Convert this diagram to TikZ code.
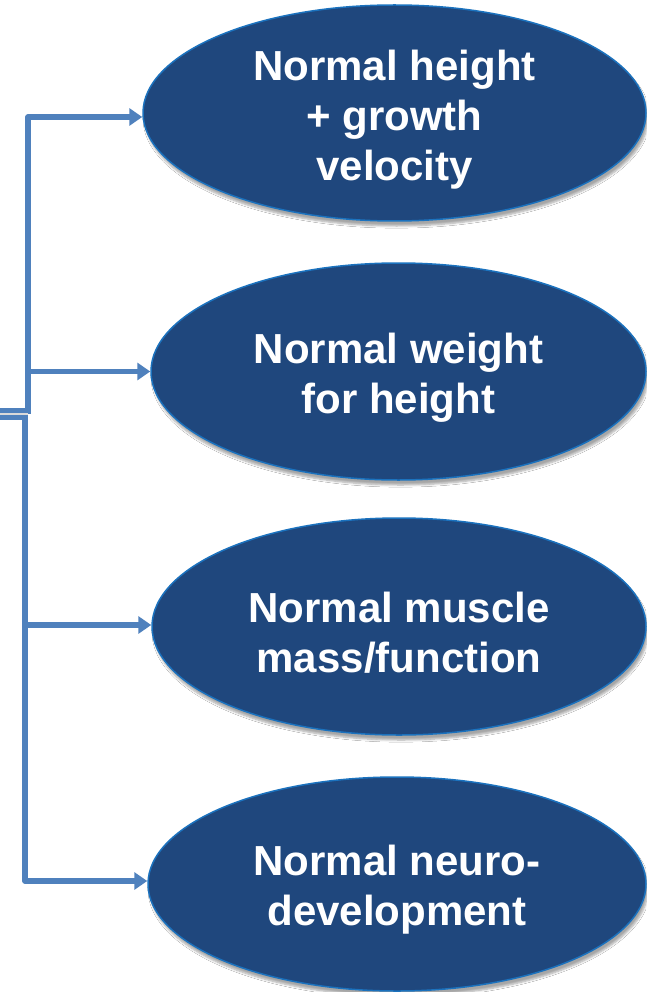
\documentclass[tikz,border=0pt]{standalone}
\usepackage{fontspec}
\setmainfont{Liberation Sans}
\usetikzlibrary{arrows.meta,shapes.geometric,shadows.blur}
\definecolor{ellfill}{HTML}{1F477D}
\definecolor{elldraw}{HTML}{1B72BE}
\definecolor{conncol}{HTML}{4F81BD}
\tikzset{
  goal/.style={ellipse, fill=ellfill, draw=elldraw, line width=1.5pt, inner sep=0pt,
    blur shadow={shadow xshift=2pt, shadow yshift=-5pt, shadow blur steps=6, shadow opacity=35}},
  goaltext/.style={text=white, font=\bfseries\fontsize{42}{50}\selectfont, align=center, inner sep=0pt},
  conn/.style={draw=conncol, line width=5.5pt, line join=round, -{Triangle[length=13pt,width=17pt]}},
  stub/.style={draw=conncol, line width=5pt, double=black!15, double distance=1.5pt}
}
\begin{document}
\begin{tikzpicture}[x=1pt,y=-1pt]
\useasboundingbox (0,0) rectangle (646,992);
\fill[white] (0,0) rectangle (646,992);
\node[goal, minimum width=503pt, minimum height=216pt] (e1) at (394.5,113) {};
\node[goal, minimum width=495pt, minimum height=217pt] (e2) at (398.5,371.5) {};
\node[goal, minimum width=494pt, minimum height=217pt] (e3) at (399,626.5) {};
\node[goal, minimum width=498pt, minimum height=214pt] (e4) at (397,884) {};
\node[goaltext] (t1) at ([yshift=-7pt]e1.center) {Normal height\\+ growth\\velocity};
\node[goaltext] (t2) at ([yshift=-6pt]e2.center) {Normal weight\\for height};
\node[goaltext] (t3) at ([yshift=-6pt]e3.center) {Normal muscle\\mass/function};
\node[goaltext] (t4) at ([yshift=-6pt]e4.center) {Normal neuro-\\development};
\coordinate (in) at (0,414);
\coordinate (hubu) at (28,414);
\coordinate (hubl) at (25,414);
\draw[conn] (hubu) |- ([yshift=-4pt]e1.west);
\draw[conn] (hubu) |- (e2.west);
\draw[conn] (hubl) |- ([yshift=1.5pt]e3.west);
\draw[conn] (hubl) |- ([yshift=3pt]e4.west);
\draw[stub] (in) -- ([xshift=2.5pt]hubl);
\end{tikzpicture}
\end{document}
